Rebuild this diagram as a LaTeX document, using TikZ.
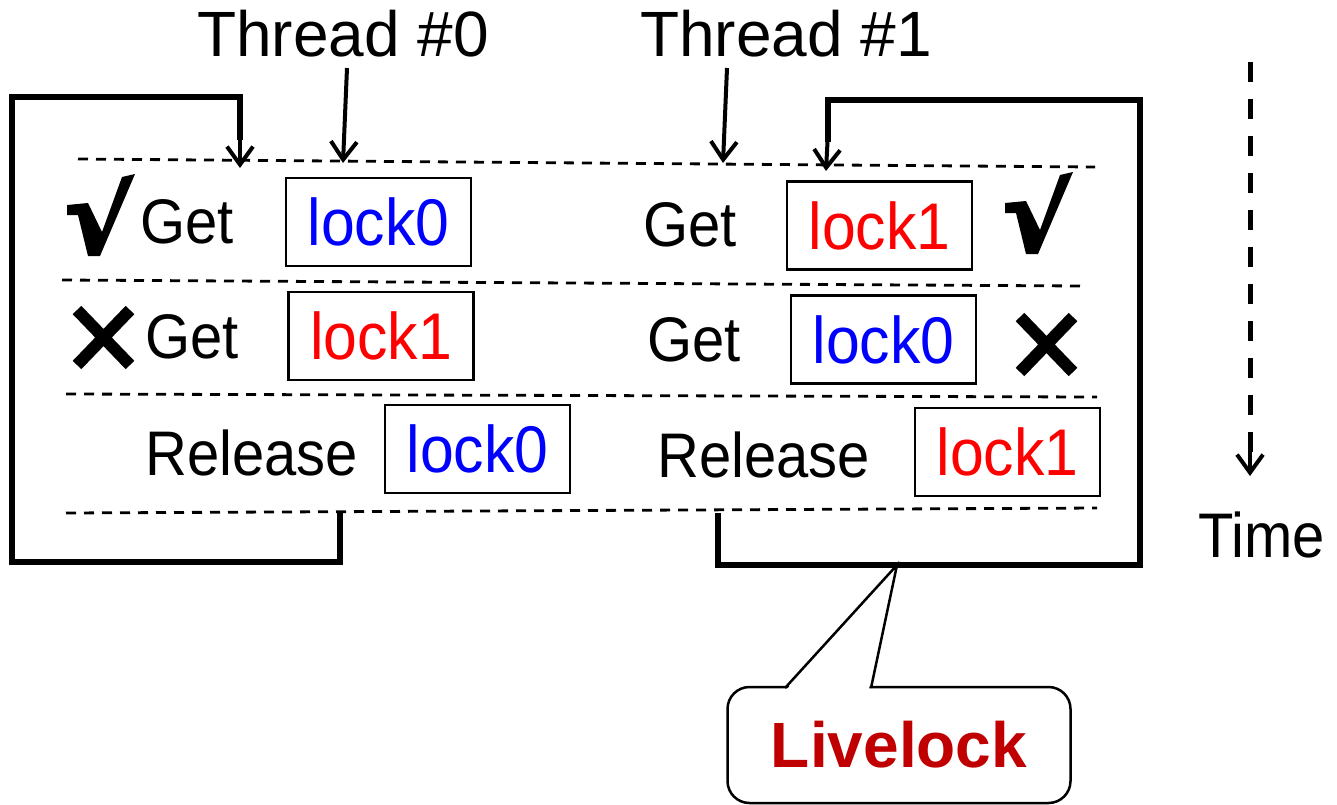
\documentclass[tikz,border=0pt]{standalone}
\usepackage{fontspec}
\setmainfont{Liberation Sans}
\newfontfamily\bodyfont[FakeStretch=0.92]{Liberation Sans}
\usetikzlibrary{arrows.meta}
\definecolor{lockblue}{RGB}{0,0,255}
\definecolor{lockred}{RGB}{255,0,0}
\definecolor{livered}{RGB}{192,0,0}
\begin{document}
\begin{tikzpicture}[x=1pt,y=-1pt,
  rowline/.style={line width=2.8pt, dash pattern=on 10pt off 8pt},
  lockbox/.style={draw, line width=2.6pt, minimum width=185pt, minimum height=88pt,
    inner sep=0pt, font=\bodyfont\fontsize{66}{70}\selectfont},
  opname/.style={inner sep=0pt, anchor=base west, font=\bodyfont\fontsize{63}{70}\selectfont},
  threadname/.style={inner sep=0pt, anchor=base west, font=\fontsize{64}{70}\selectfont},
  loopline/.style={line width=6pt, line join=miter},
  pointer/.style={line width=4pt, -{Straight Barb[length=18pt,width=26pt]}},
  checkmark/.pic={\fill (0,31) -- (21,29) -- (35,58) -- (55,3) -- (68,0) -- (33,82)
      -- (21,82) -- (11,41) -- (0,41) -- cycle;},
  crossmark/.pic={\draw[line width=12pt] (5,5) -- (58,60) (5,60) -- (58,5);},
]
\useasboundingbox (0,0) rectangle (1337,804);

% time slots
\draw[rowline] (78,159) -- (1095,167);
\draw[rowline] (62,280) -- (1082,286);
\draw[rowline] (66,394) -- (1097,397);
\draw[rowline] (66,513) -- (1097,508);

% thread headers
\node[threadname] (th0) at (197,56) {Thread \#0};
\node[threadname] (th1) at (640,56) {Thread \#1};
\coordinate (th0a) at (347,68);
\coordinate (th1a) at (727,68);
\coordinate (th0b) at (343,163);
\coordinate (th1b) at (723,163);
\draw[pointer] (th0a) -- (th0b);
\draw[pointer] (th1a) -- (th1b);

% thread 0 operations
\pic at (67,174) {checkmark};
\node[opname] (g0a) at (140,243) {Get};
\node[lockbox, text=lockblue] (l0a) at (378.5,222) {lock0};
\pic at (72,305) {crossmark};
\node[opname] (g0b) at (145,358) {Get};
\node[lockbox, text=lockred] (l0b) at (381,336) {lock1};
\node[opname] (r0) at (145,475) {Release};
\node[lockbox, text=lockblue] (l0c) at (477.5,449) {lock0};

% thread 1 operations
\node[opname] (g1a) at (643,246) {Get};
\node[lockbox, text=lockred] (l1a) at (879.5,225.5) {lock1};
\pic at (1005,172) {checkmark};
\node[opname] (g1b) at (647,361) {Get};
\node[lockbox, text=lockblue] (l1b) at (883.5,339.5) {lock0};
\pic at (1015,312) {crossmark};
\node[opname] (r1) at (657,477) {Release};
\node[lockbox, text=lockred] (l1c) at (1007.5,452) {lock1};

% retry loops
\coordinate (lp0s) at (340,513);
\coordinate (lp0e) at (240,168);
\draw[loopline] (lp0s) -- (340,562) -- (12,562) -- (12,97) -- (240,97) -- (240,140);
\draw[pointer] (240,130) -- (lp0e);
\coordinate (lp1s) at (718,513);
\coordinate (lp1e) at (826,171);
\coordinate (lp1m) at (897,565);
\draw[loopline] (lp1s) -- (718,565) -- (1140,565) -- (1140,100) -- (828,100) -- (828,142);
\draw[pointer] (828,132) -- (lp1e);

% time axis
\coordinate (tm0) at (1250,62);
\coordinate (tm1) at (1250,476);
\draw[line width=5pt, dash pattern=on 20pt off 17pt] (tm0) -- (1250,458);
\draw[pointer] (1250,450) -- (tm1);
\node[opname] (time) at (1198,557) {Time};

% callout
\node[draw, line width=2.5pt, rounded corners=22pt, minimum width=343pt, minimum height=116pt,
  inner sep=0pt, fill=white, text=livered, font=\bfseries\fontsize{64}{70}\selectfont]
  (live) at (899,745) {Livelock};
\fill[white] (787,689) -- (lp1m) -- (869,689) -- cycle;
\draw[line width=2.5pt, line join=miter] (785,688) -- (lp1m) -- (871,688);
\end{tikzpicture}
\end{document}
